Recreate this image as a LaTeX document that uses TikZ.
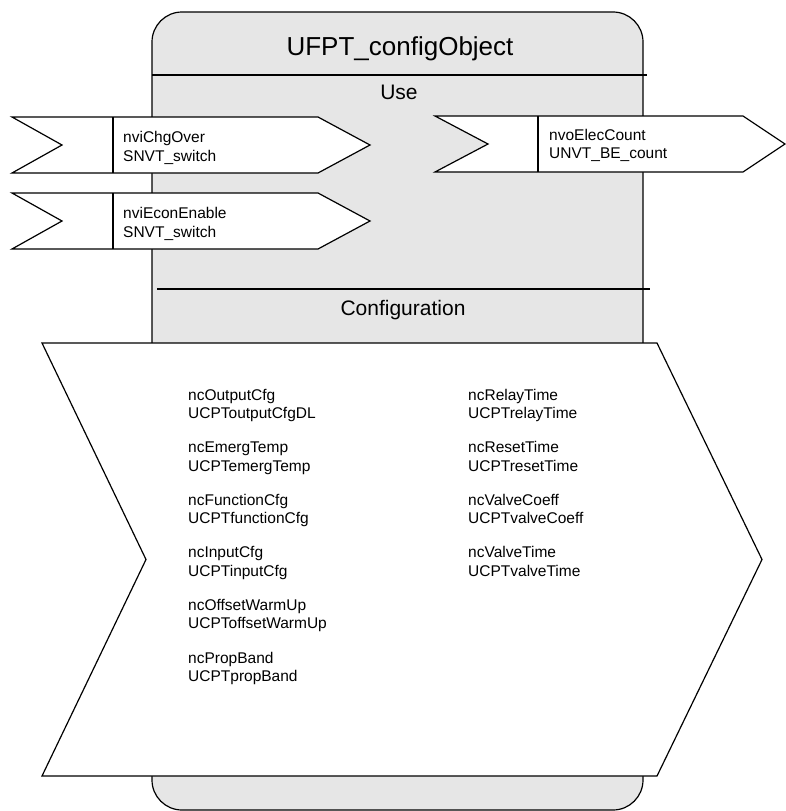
\documentclass[tikz,border=0pt]{standalone}
\usepackage{fontspec}
\setmainfont{Liberation Sans}
\definecolor{boxgray}{RGB}{230,230,230}
\begin{document}
\begin{tikzpicture}[x=1pt,y=-1pt,line join=miter]
\useasboundingbox (0,0) rectangle (785,811);
\tikzset{
  frame/.style={draw=black,line width=1.2pt},
  port/.style={draw=black,line width=1.2pt,fill=white},
  lbl/.style={font=\fontsize{15.5}{18.5}\selectfont,anchor=base west,inner sep=0pt},
  head/.style={font=\fontsize{21}{25}\selectfont,anchor=base,inner sep=0pt},
  titlefont/.style={font=\fontsize{26}{30}\selectfont,anchor=base,inner sep=0pt}
}
% main object box
\draw[frame,fill=boxgray,rounded corners=30pt] (152,12) rectangle (643,810);
\node[titlefont] (title) at (400,55) {UFPT\_configObject};
\draw[frame] (152,75) -- (647,75);
\node[head] (use) at (399,99) {Use};
\draw[frame] (157,289) -- (650,289);
\node[head] (config) at (403,315) {Configuration};

% input port 1
\draw[port] (12,117) -- (318,117) -- (370,145) -- (318,173) -- (12,173) -- (62,145) -- cycle;
\draw[frame] (113,117) -- (113,173);
\node[lbl] (in1a) at (123,142) {nviChgOver};
\node[lbl] (in1b) at (123,161) {SNVT\_switch};

% input port 2
\draw[port] (12,193) -- (318,193) -- (370,221) -- (318,249) -- (12,249) -- (62,221) -- cycle;
\draw[frame] (113,193) -- (113,249);
\node[lbl] (in2a) at (123,218) {nviEconEnable};
\node[lbl] (in2b) at (123,237) {SNVT\_switch};

% output port
\draw[port] (435,116) -- (743,116) -- (785,144) -- (743,172) -- (435,172) -- (488,144) -- cycle;
\draw[frame] (538,116) -- (538,172);
\node[lbl] (out1a) at (549,140) {nvoElecCount};
\node[lbl] (out1b) at (549,158) {UNVT\_BE\_count};

% configuration chevron
\draw[port] (42,343) -- (657,343) -- (762,559.5) -- (657,776) -- (42,776) -- (146,559.5) -- cycle;

\foreach \a/\b [count=\i from 0] in {ncOutputCfg/UCPToutputCfgDL, ncEmergTemp/UCPTemergTemp, ncFunctionCfg/UCPTfunctionCfg, ncInputCfg/UCPTinputCfg, ncOffsetWarmUp/UCPToffsetWarmUp, ncPropBand/UCPTpropBand}{
  \node[lbl] (ca\i) at (188,{400+52.6*\i}) {\a};
  \node[lbl] (cb\i) at (188,{418.5+52.6*\i}) {\b};
}
\foreach \a/\b [count=\i from 0] in {ncRelayTime/UCPTrelayTime, ncResetTime/UCPTresetTime, ncValveCoeff/UCPTvalveCoeff, ncValveTime/UCPTvalveTime}{
  \node[lbl] (cc\i) at (468,{400+52.6*\i}) {\a};
  \node[lbl] (cd\i) at (468,{418.5+52.6*\i}) {\b};
}
\end{tikzpicture}
\end{document}
